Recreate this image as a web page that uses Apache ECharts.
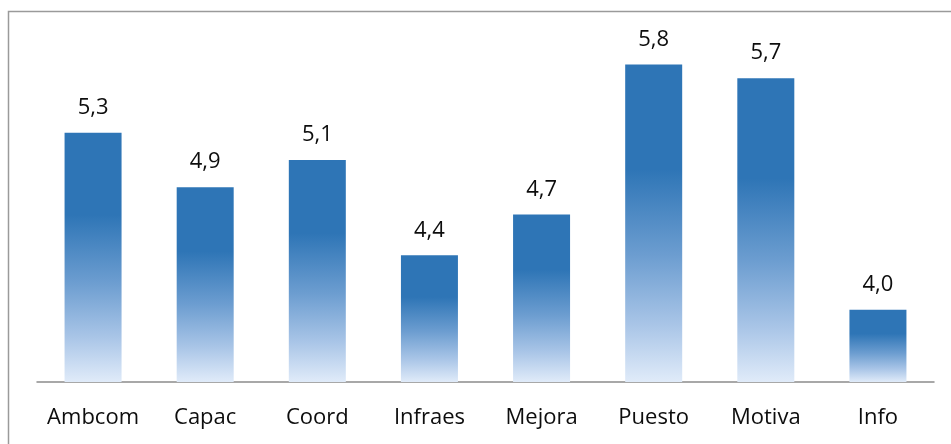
<!DOCTYPE html>
<html>
<head>
<meta charset="utf-8">
<script src="https://cdn.jsdelivr.net/npm/echarts@6/dist/echarts.min.js"></script>
<style>
  html, body { margin: 0; padding: 0; background: #fff; }
  #chart { width: 951px; height: 444px; }
</style>
</head>
<body>
<div id="chart"></div>
<script>
// Average score per dimension
const categories = ['Ambcom', 'Capac', 'Coord', 'Infraes', 'Mejora', 'Puesto', 'Motiva', 'Info'];
const scores = [5.3, 4.9, 5.1, 4.4, 4.7, 5.8, 5.7, 4.0];

const chart = echarts.init(document.getElementById('chart'), null, { renderer: 'canvas' });

const barFill = new echarts.graphic.LinearGradient(0, 0, 0, 1, [
  { offset: 0, color: '#2E75B6' },
  { offset: 0.33, color: '#2E75B6' },
  { offset: 0.6, color: '#6C9DD0' },
  { offset: 0.82, color: '#A9C5E7' },
  { offset: 1, color: '#E0EBF9' }
]);

chart.setOption({
  animation: false,
  backgroundColor: '#ffffff',
  textStyle: { fontFamily: 'Open Sans' },
  graphic: [{
    type: 'rect',
    shape: { x: 8.5, y: 11.5, width: 960, height: 460 },
    style: { fill: 'none', stroke: '#9a9a9a', lineWidth: 1.5 },
    silent: true,
    z: -1
  }],
  grid: { left: 37, right: 17, top: 10, bottom: 62, containLabel: false },
  xAxis: {
    type: 'category',
    data: categories,
    axisLine: { lineStyle: { color: '#8c8c8c', width: 1.5 } },
    axisTick: { show: false },
    axisLabel: { interval: 0, color: '#0d0d0d', fontSize: 22, margin: 25, fontFamily: 'Open Sans' }
  },
  yAxis: {
    type: 'value',
    min: 3.47,
    max: 6.2,
    show: false,
    splitLine: { show: false }
  },
  series: [{
    type: 'bar',
    data: scores,
    barWidth: 57,
    itemStyle: { color: barFill },
    label: {
      show: true,
      position: 'top',
      distance: 14,
      color: '#0d0d0d',
      fontSize: 22,
      fontFamily: 'Open Sans',
      formatter: p => p.value.toFixed(1).replace('.', ',')
    }
  }]
});
</script>
</body>
</html>
